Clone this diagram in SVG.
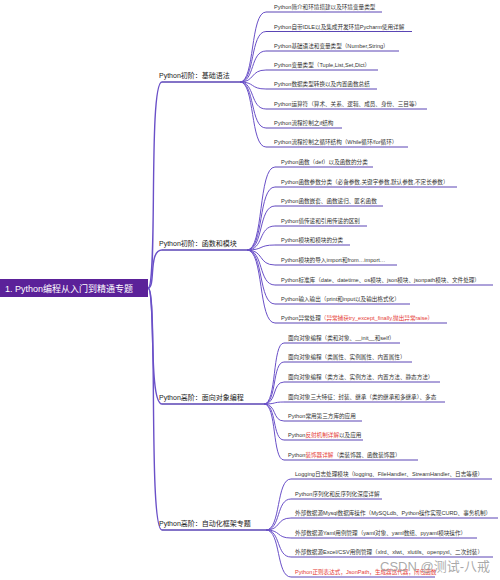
<svg xmlns="http://www.w3.org/2000/svg" width="500" height="580" viewBox="0 0 500 580">
<style>
.c1{fill:none;stroke:#6a50c8;stroke-width:1.4}
.c2{fill:none;stroke:#6a50c8;stroke-width:1}
.ul1{stroke:#5a45b5;stroke-width:1.4}
.ul2{stroke:#5a45b5;stroke-width:1}
.t1{font-family:"Liberation Sans","Noto Sans CJK SC",sans-serif;font-size:7px;fill:#222}
.t2{font-family:"Liberation Sans","Noto Sans CJK SC",sans-serif;font-size:5.6px;fill:#333}
.red{fill:#e53935}
.root{font-family:"Liberation Sans","Noto Sans CJK SC",sans-serif;font-size:9px;fill:#fff}
</style>
<rect width="500" height="580" fill="#fff"/>
<g id="connectors">
<path class="c1" d="M148,288 C158,288 148,82 162,82"/>
<path class="c1" d="M148,288 C156,288 148,250 162,250"/>
<path class="c1" d="M148,288 C156,288 148,404 162,404"/>
<path class="c1" d="M148,288 C158,288 148,530 162,530"/>
<g id="b1c">
<path class="c2" d="M240,82 C255,82 250,12 266,12"/>
<path class="c2" d="M240,82 C255,82 250,31.5 266,31.5"/>
<path class="c2" d="M240,82 C255,82 250,51 266,51"/>
<path class="c2" d="M240,82 C255,82 250,70 266,70"/>
<path class="c2" d="M240,82 C255,82 250,89 266,89"/>
<path class="c2" d="M240,82 C255,82 250,109 266,109"/>
<path class="c2" d="M240,82 C255,82 250,128 266,128"/>
<path class="c2" d="M240,82 C255,82 250,147 266,147"/>
</g>
<g id="b2c">
<path class="c2" d="M247,250 C264,250 258,167 275,167"/>
<path class="c2" d="M247,250 C264,250 258,187 275,187"/>
<path class="c2" d="M247,250 C264,250 258,206 275,206"/>
<path class="c2" d="M247,250 C264,250 258,226 275,226"/>
<path class="c2" d="M247,250 C264,250 258,245 275,245"/>
<path class="c2" d="M247,250 C264,250 258,265 275,265"/>
<path class="c2" d="M247,250 C264,250 258,285 275,285"/>
<path class="c2" d="M247,250 C264,250 258,304 275,304"/>
<path class="c2" d="M247,250 C264,250 258,323 275,323"/>
</g>
<g id="b3c">
<path class="c2" d="M264,404 C277,404 272,343 284,343"/>
<path class="c2" d="M264,404 C277,404 272,362 284,362"/>
<path class="c2" d="M264,404 C277,404 272,382 284,382"/>
<path class="c2" d="M264,404 C277,404 272,402 284,402"/>
<path class="c2" d="M264,404 C277,404 272,421 284,421"/>
<path class="c2" d="M264,404 C277,404 272,440 284,440"/>
<path class="c2" d="M264,404 C277,404 272,460 284,460"/>
</g>
<g id="b4c">
<path class="c2" d="M266,530 C281,530 276,479 291,479"/>
<path class="c2" d="M266,530 C281,530 276,499 291,499"/>
<path class="c2" d="M266,530 C281,530 276,518 291,518"/>
<path class="c2" d="M266,530 C281,530 276,538 291,538"/>
<path class="c2" d="M266,530 C281,530 276,557 291,557"/>
<path class="c2" d="M266,530 C281,530 276,577 291,577"/>
</g>
</g>
<g id="root">
<rect x="0" y="279" width="148" height="18" fill="#5b2199"/>
<text class="root" x="5" y="291.5">1. Python编程从入门到精通专题</text>
</g>
<g id="n1">
<line class="ul1" x1="162" y1="82" x2="240" y2="82"/>
<text class="t1" x="159" y="78">Python初阶：基础语法</text>
</g>
<g id="n1-1"><line class="ul2" x1="266" y1="12" x2="382" y2="12"/><text class="t2" x="274" y="9">Python简介和环境搭建以及环境变量类型</text></g>
<g id="n1-2"><line class="ul2" x1="266" y1="31.5" x2="412" y2="31.5"/><text class="t2" x="274" y="28.5">Python自带IDLE以及集成开发环境Pycharm使用详解</text></g>
<g id="n1-3"><line class="ul2" x1="266" y1="51" x2="399" y2="51"/><text class="t2" x="274" y="48">Python基础语法和变量类型（Number,String）</text></g>
<g id="n1-4"><line class="ul2" x1="266" y1="70" x2="378" y2="70"/><text class="t2" x="274" y="67">Python变量类型（Tuple,List,Set,Dict）</text></g>
<g id="n1-5"><line class="ul2" x1="266" y1="89" x2="377" y2="89"/><text class="t2" x="274" y="86">Python数据类型转换以及内置函数总结</text></g>
<g id="n1-6"><line class="ul2" x1="266" y1="109" x2="427" y2="109"/><text class="t2" x="274" y="106">Python运算符（算术、关系、逻辑、成员、身份、三目等）</text></g>
<g id="n1-7"><line class="ul2" x1="266" y1="128" x2="342" y2="128"/><text class="t2" x="274" y="125">Python流程控制之if结构</text></g>
<g id="n1-8"><line class="ul2" x1="266" y1="147" x2="408" y2="147"/><text class="t2" x="274" y="144">Python流程控制之循环结构（While循环/for循环）</text></g>
<g id="n2">
<line class="ul1" x1="162" y1="250" x2="247" y2="250"/>
<text class="t1" x="159" y="246">Python初阶：函数和模块</text>
</g>
<g id="n2-1"><line class="ul2" x1="275" y1="167" x2="373" y2="167"/><text class="t2" x="281" y="164">Python函数（def）以及函数的分类</text></g>
<g id="n2-2"><line class="ul2" x1="275" y1="187" x2="457" y2="187"/><text class="t2" x="281" y="184">Python函数参数分类（必备参数,关键字参数,默认参数,不定长参数）</text></g>
<g id="n2-3"><line class="ul2" x1="275" y1="206" x2="383" y2="206"/><text class="t2" x="281" y="203">Python函数嵌套、函数递归、匿名函数</text></g>
<g id="n2-4"><line class="ul2" x1="275" y1="226" x2="367" y2="226"/><text class="t2" x="281" y="223">Python值传递和引用传递的区别</text></g>
<g id="n2-5"><line class="ul2" x1="275" y1="245" x2="350" y2="245"/><text class="t2" x="281" y="242">Python模块和模块的分类</text></g>
<g id="n2-6"><line class="ul2" x1="275" y1="265" x2="397" y2="265"/><text class="t2" x="281" y="262">Python模块的导入import和from…import…</text></g>
<g id="n2-7"><line class="ul2" x1="275" y1="285" x2="493" y2="285"/><text class="t2" x="281" y="282">Python标准库（date、datetime、os模块、json模块、jsonpath模块、文件处理）</text></g>
<g id="n2-8"><line class="ul2" x1="275" y1="304" x2="410" y2="304"/><text class="t2" x="281" y="301">Python输入输出（print和input以及输出格式化）</text></g>
<g id="n2-9"><line class="ul2" x1="275" y1="323" x2="447" y2="323"/><text class="t2" x="281" y="320">Python异常处理<tspan class="red">（异常捕获try_except_finally,抛出异常raise）</tspan></text></g>
<g id="n3">
<line class="ul1" x1="162" y1="404" x2="264" y2="404"/>
<text class="t1" x="159" y="400">Python高阶：面向对象编程</text>
</g>
<g id="n3-1"><line class="ul2" x1="284" y1="343" x2="400" y2="343"/><text class="t2" x="288" y="340">面向对象编程（类和对象、__init__和self）</text></g>
<g id="n3-2"><line class="ul2" x1="284" y1="362" x2="412" y2="362"/><text class="t2" x="288" y="359">面向对象编程（类属性、实例属性、内置属性）</text></g>
<g id="n3-3"><line class="ul2" x1="284" y1="382" x2="440" y2="382"/><text class="t2" x="288" y="379">面向对象编程（类方法、实例方法、内置方法、静态方法）</text></g>
<g id="n3-4"><line class="ul2" x1="284" y1="402" x2="445" y2="402"/><text class="t2" x="288" y="399">面向对象三大特征：封装、继承（类的继承和多继承）、多态</text></g>
<g id="n3-5"><line class="ul2" x1="284" y1="421" x2="362" y2="421"/><text class="t2" x="288" y="418">Python常用第三方库的应用</text></g>
<g id="n3-6"><line class="ul2" x1="284" y1="440" x2="363" y2="440"/><text class="t2" x="288" y="437">Python<tspan class="red">反射机制详解</tspan>以及应用</text></g>
<g id="n3-7"><line class="ul2" x1="284" y1="460" x2="418" y2="460"/><text class="t2" x="288" y="457">Python<tspan class="red">装饰器详解</tspan>（类装饰器、函数装饰器）</text></g>
<g id="n4">
<line class="ul1" x1="162" y1="530" x2="266" y2="530"/>
<text class="t1" x="159" y="526">Python高阶：自动化框架专题</text>
</g>
<g id="n4-1"><line class="ul2" x1="291" y1="479" x2="492" y2="479"/><text class="t2" x="295" y="476">Logging日志处理模块（logging、FileHandler、StreamHandler、日志等级）</text></g>
<g id="n4-2"><line class="ul2" x1="291" y1="499" x2="382" y2="499"/><text class="t2" x="295" y="496">Python序列化和反序列化深度详解</text></g>
<g id="n4-3"><line class="ul2" x1="291" y1="518" x2="498" y2="518"/><text class="t2" x="295" y="515">外部数据源Mysql数据库操作（MySQLdb、Python操作实现CURD、事务机制）</text></g>
<g id="n4-4"><line class="ul2" x1="291" y1="538" x2="477" y2="538"/><text class="t2" x="295" y="535">外部数据源Yaml用例管理（yaml对象、yaml数组、pyyaml模块操作）</text></g>
<g id="n4-5"><line class="ul2" x1="291" y1="557" x2="493" y2="557"/><text class="t2" x="295" y="554">外部数据源Excel/CSV用例管理（xlrd、xlwt、xlutils、openpyxl、二次封装）</text></g>
<g id="n4-6"><line class="ul2" x1="291" y1="577" x2="435" y2="577"/><text class="t2" x="295" y="574"><tspan class="red">Python正则表达式，JsonPath，生成器迭代器，闭包函数</tspan></text></g>
<text x="380" y="571" font-family="'Liberation Sans','Noto Sans CJK SC',sans-serif" font-size="13" fill="#9a9a9a" fill-opacity="0.85">CSDN @测试-八戒</text>
</svg>
